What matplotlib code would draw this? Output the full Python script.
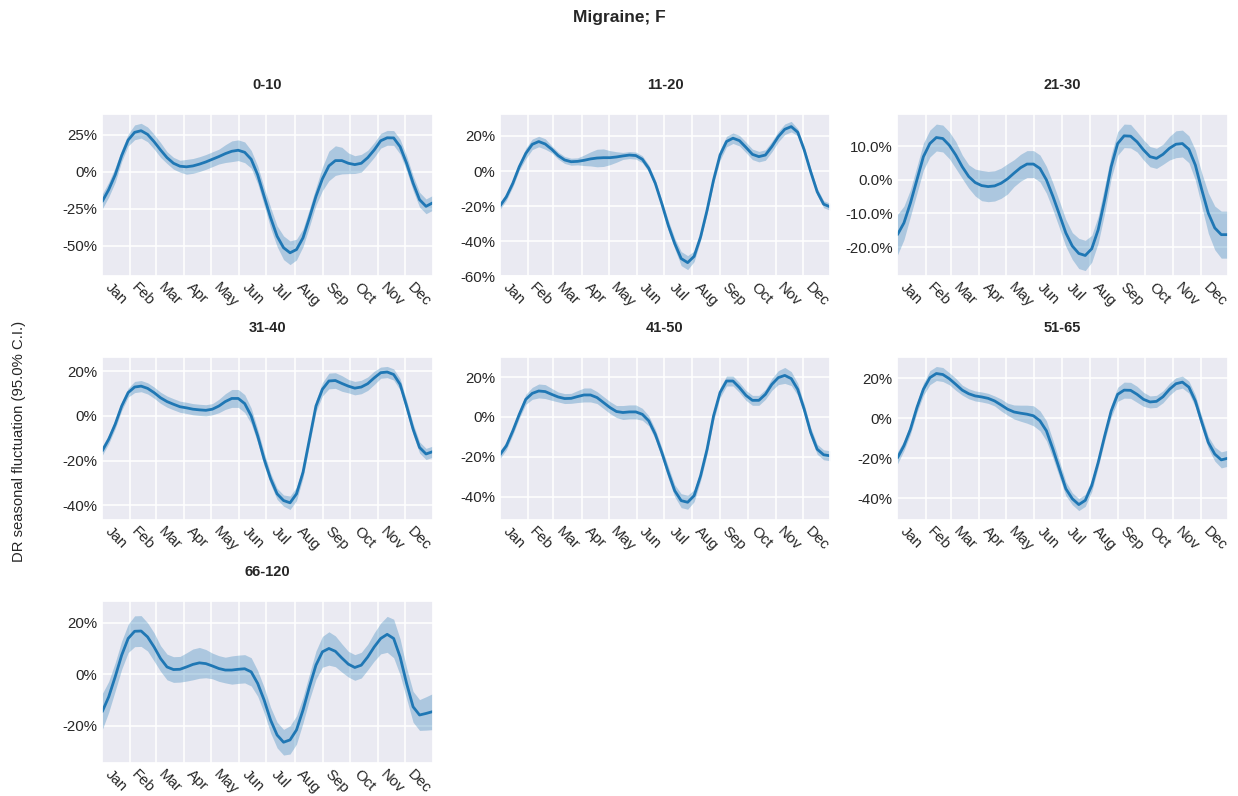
import numpy as np
import matplotlib
matplotlib.use("Agg")
import matplotlib.pyplot as plt
import matplotlib.ticker as mticker
import seaborn as sns

# ---- data: weekly seasonal fluctuation (%) and 95% CI half-widths (%) ----
age_groups = ["0-10", "11-20", "21-30", "31-40", "41-50", "51-65", "66-120"]
month_labels = ["Jan", "Feb", "Mar", "Apr", "May", "Jun",
                "Jul", "Aug", "Sep", "Oct", "Nov", "Dec"]
month_starts = [0, 31, 59, 90, 120, 151, 181, 212, 243, 273, 304, 334, 365]

mean_0_10 = [-20, -12, -2, 11, 21.5, 26.7, 27.8, 25.3, 20.4, 14.8, 9.6, 5.8, 3.8,
             3.4, 4, 5.2, 6.7, 8.5, 10.3, 12.3, 13.9, 14.6, 13.2, 8.5, -2, -16.6,
             -31, -43.5, -51.3, -54.7, -52.5, -44.6, -31, -16.6, -4.7, 4, 7.6,
             7.6, 5.8, 4.9, 5.8, 9.6, 14.8, 21, 23, 22.9, 17, 5.8, -7.6, -18.8,
             -23.3, -21]
ci_0_10 = [5, 5, 5, 4, 4, 5, 5, 5, 5, 5, 4, 4, 4, 5, 5, 5, 5, 5, 5, 6, 7, 7, 7, 6,
           6, 6, 7, 7, 8, 8, 7, 6, 6, 6, 8, 10, 10, 9, 7, 6, 6, 5, 5, 5, 5, 5, 5,
           5, 5, 5, 5, 5]

mean_11_20 = [-20, -14.7, -7, 2.5, 10, 15.2, 16.8, 15.4, 12.4, 8.8, 6.3, 5.3, 5.5,
              6.1, 6.9, 7.4, 7.6, 7.6, 8, 8.6, 9.1, 8.8, 6.7, 1.5, -7, -18.5,
              -30.9, -41.3, -49.9, -52.2, -48.6, -37.5, -22.3, -5.1, 9.1, 16.8,
              18.7, 17.3, 13.5, 9.5, 8.2, 9.1, 13.9, 19.6, 23.8, 25.3, 22.1, 12,
              -0.4, -11.8, -18.9, -20.4]
ci_11_20 = [2, 2, 2, 2, 3, 3, 3, 3, 2, 2, 2, 2, 2, 3, 4, 5, 5, 4, 3, 2, 2, 2, 2, 2,
            2, 2, 3, 3, 4, 4, 3, 2, 2, 2, 3, 3, 3, 3, 3, 3, 3, 3, 3, 3, 3, 3, 2, 2,
            2, 2, 2, 2]

mean_21_30 = [-16.3, -12.8, -6.9, 0, 6.9, 10.8, 12.6, 12.3, 10.3, 7.4, 3.9, 1,
              -0.8, -1.7, -2, -1.8, -1, 0.3, 2, 3.6, 4.7, 4.7, 3.4, 0, -4.9, -10.3,
              -15.8, -19.7, -21.9, -22.5, -20.5, -14.8, -5.9, 3.9, 10.8, 13.1, 13,
              11.3, 8.9, 6.9, 6.4, 7.6, 9.4, 10.6, 10.8, 9.1, 4.4, -3, -9.9, -14.3,
              -16.3, -16.3]
ci_21_30 = [6, 5, 4, 4, 4, 4, 4, 4, 4, 4, 3.5, 3.5, 4, 4.5, 4.5, 4.5, 4.5, 4.5, 4,
            4, 4, 4, 4, 4, 4, 4, 4, 4, 4.5, 4.5, 4, 4, 4, 3.5, 3.5, 3.5, 3.5, 3, 3,
            3, 3, 3, 3.5, 4, 4, 4, 4.5, 5, 6, 6.5, 7, 7]

mean_31_40 = [-15.6, -10.4, -3.7, 4.4, 10.4, 12.9, 13.3, 12.3, 10.4, 8.1, 6.4, 5.2,
              4.1, 3.6, 3, 2.7, 2.5, 3, 4.4, 6.4, 7.8, 7.8, 5.5, 0, -8.9, -19.3,
              -28.1, -34.8, -37.8, -38.8, -34.8, -25.2, -10.4, 4.4, 11.9, 15.6,
              15.8, 14.5, 13.3, 12.4, 12.9, 14.4, 17, 19.3, 19.6, 18.5, 14.1, 4.4,
              -5.9, -14.1, -17, -16]
ci_31_40 = [2, 2, 2, 2, 2, 2.5, 2.5, 2.5, 2.5, 2.5, 2.5, 2.5, 2.5, 2.5, 2.5, 2.5,
            2.5, 2.5, 3, 3.5, 4, 4, 4, 3.5, 3, 3, 2.5, 2.5, 2.5, 3, 3, 2.5, 2.5,
            2.5, 3, 3.5, 3.5, 3.5, 3, 3, 3, 3, 3, 2.5, 2.5, 2.5, 2.5, 2.5, 2.5,
            2.5, 2.5, 2.5]

mean_41_50 = [-19, -14.5, -7, 1.3, 8.8, 11.8, 13, 12.7, 11.3, 10, 9.2, 9.3, 10.2,
              11, 11, 9.7, 7.2, 4.7, 2.7, 2.2, 2.5, 2.5, 1.3, -2, -8.7, -17.8,
              -27.8, -37, -42, -42.8, -39.5, -29.5, -16.2, 0.5, 12.2, 18, 18, 14.7,
              10.8, 8.3, 8.3, 11.3, 16.3, 19.7, 20.8, 19.2, 13.8, 3.8, -7.8, -16.2,
              -19, -19.5]
ci_41_50 = [2, 2, 2, 2, 2.5, 3, 3.5, 3.5, 3, 2.5, 2.5, 2.5, 3, 3.5, 3.5, 3, 3, 3, 3,
            3.5, 3.5, 3.5, 3, 2.5, 2.5, 2.5, 3, 3, 3.5, 3.5, 3, 2.5, 2.5, 2.5, 2.5,
            2.5, 2.5, 2.5, 2.5, 2.5, 2.5, 2.5, 3, 3.5, 4, 3.5, 3, 2.5, 2.5, 2.5,
            2.5, 2.5]

mean_51_65 = [-19.8, -13.7, -5.5, 5.3, 14.4, 20.2, 22.3, 21.8, 19.7, 16.9, 14,
              12.2, 11.1, 10.6, 9.9, 8.6, 6.6, 4.5, 3.1, 2.5, 2, 1.2, -1.3, -6.3,
              -15.4, -25.3, -35.2, -40.2, -43.1, -41, -33.6, -22, -8.8, 3.6, 11.9,
              14, 13.9, 11.9, 9.4, 8.1, 8.4, 10.7, 14.4, 17.2, 18, 15.5, 8.6, -2.1,
              -12.1, -17.9, -20.8, -20]
ci_51_65 = [3, 2.5, 2.5, 2.5, 3, 3.5, 3.5, 3.5, 3, 3, 2.5, 2.5, 2.5, 2.5, 2.5, 2.5,
            3, 3, 3.5, 4, 4.5, 5, 5, 5, 4.5, 4, 3.5, 3, 3, 3, 3, 2.5, 2.5, 3, 3.5,
            4, 4, 4, 3.5, 3, 3, 3, 3, 3, 3, 3, 3, 3, 3, 3.5, 4, 4]

mean_66_120 = [-14.6, -8.8, -1, 7.4, 13.9, 16.7, 16.8, 14.5, 10.6, 6.1, 2.8, 1.8,
               1.9, 2.8, 3.8, 4.4, 4.1, 3.2, 2.2, 1.6, 1.6, 1.9, 2.1, 0.9, -3.6,
               -10.1, -17.9, -23.7, -26.5, -25.6, -21.7, -14, -4.9, 3.5, 8.7, 10,
               8.9, 6.3, 3.9, 2.6, 3.5, 6.7, 10.6, 13.9, 15.5, 13.9, 6.7, -3.6,
               -12.7, -15.9, -15.3, -14.6]
ci_66_120 = [7, 6, 5.5, 5.5, 5.5, 6, 6, 5.5, 5.5, 5, 5, 5, 5, 5.5, 6, 6, 5.5, 5, 5,
             5, 5.5, 5.5, 5.5, 5.5, 5, 5, 5, 5, 5, 5.5, 5.5, 5, 5, 5.5, 6, 6.5, 6,
             5.5, 5, 5, 5, 5, 5.5, 6, 7, 7.5, 7, 6, 6, 6, 6.5, 7]

means = [mean_0_10, mean_11_20, mean_21_30, mean_31_40,
         mean_41_50, mean_51_65, mean_66_120]
cis = [ci_0_10, ci_11_20, ci_21_30, ci_31_40, ci_41_50, ci_51_65, ci_66_120]

# y-axis limits (fractions) and tick steps per panel
ylims = [(-0.706, 0.391), (-0.600, 0.325), (-0.287, 0.196), (-0.464, 0.261),
         (-0.516, 0.298), (-0.507, 0.303), (-0.347, 0.285)]
ysteps = [0.25, 0.2, 0.1, 0.2, 0.2, 0.2, 0.2]

# ---- style ----
sns.set_theme(style="darkgrid")
plt.rcParams["font.family"] = ["Liberation Sans", "DejaVu Sans"]
plt.rcParams["axes.unicode_minus"] = False

color = "#1f77b4"
year_span = 364
days = np.linspace(0, year_span, len(mean_0_10))
month_mid = [(month_starts[i] + month_starts[i + 1]) / 2 for i in range(12)]

fig, axes = plt.subplots(3, 3, figsize=(12.38, 7.96), dpi=100)
fig.subplots_adjust(left=0.0826, right=0.9917, top=0.8568, bottom=0.0411,
                    wspace=0.204, hspace=0.50)

for i, ax in enumerate(axes.flat):
    if i >= len(age_groups):
        ax.remove()
        continue
    m = np.array(means[i]) / 100.0
    c = np.array(cis[i]) / 100.0
    ax.fill_between(days, m - c, m + c, color=color, alpha=0.3, linewidth=0)
    ax.plot(days, m, color=color, linewidth=2)

    ax.set_xlim(0, year_span)
    ax.set_ylim(*ylims[i])
    ax.xaxis.set_major_locator(mticker.FixedLocator(month_starts[1:12]))
    ax.xaxis.set_major_formatter(mticker.NullFormatter())
    ax.xaxis.set_minor_locator(mticker.FixedLocator(month_mid))
    ax.xaxis.set_minor_formatter(mticker.FixedFormatter(month_labels))
    ax.yaxis.set_major_locator(mticker.MultipleLocator(ysteps[i]))
    ax.yaxis.set_major_formatter(mticker.PercentFormatter(xmax=1))
    ax.tick_params(axis="both", which="both", length=0, labelsize=10.8,
                   colors="#262626")
    ax.tick_params(axis="x", which="minor", pad=3)
    for lab in ax.xaxis.get_minorticklabels():
        lab.set_rotation(-45)
        lab.set_ha("center")
    ax.grid(True, which="major", color="white", linewidth=1.1)
    ax.grid(False, which="minor")
    ax.set_title(age_groups[i], fontsize=10.5, fontweight="bold", pad=18,
                 color="#262626")

fig.suptitle("Migraine; F", fontsize=12.5, fontweight="bold", y=0.988,
             color="#262626")
fig.text(0.015, 0.445, "DR seasonal fluctuation (95.0% C.I.)", rotation=90,
         ha="center", va="center", fontsize=10.7, color="#262626")

fig.savefig("out.png", dpi=100)
